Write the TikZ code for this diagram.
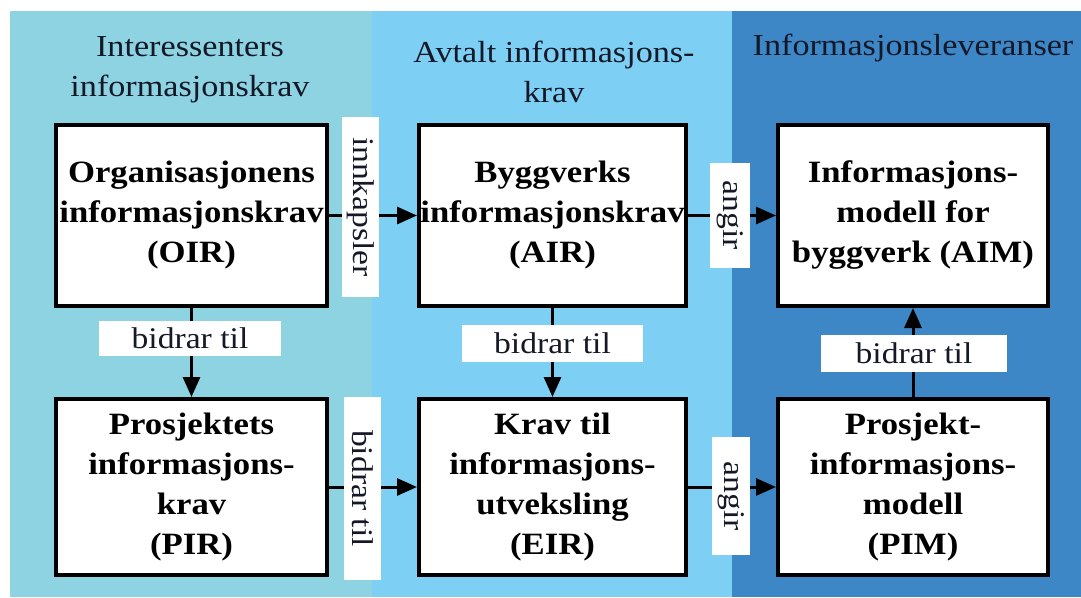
\documentclass[tikz,border=0pt]{standalone}
\usepackage{fontspec}
\setmainfont[FakeStretch=1.12]{Liberation Serif}
\usetikzlibrary{arrows.meta}
\definecolor{bgA}{HTML}{8DD3E2}
\definecolor{bgB}{HTML}{7DCFF3}
\definecolor{bgC}{HTML}{3D87C7}
\definecolor{ink}{HTML}{151826}
\begin{document}
\begin{tikzpicture}[x=1pt,y=-1pt,
  box/.style={draw=black, line width=4pt, fill=white, align=center, inner sep=0pt,
    font=\fontsize{31}{40}\selectfont\bfseries, text=black},
  lab/.style={fill=white, inner sep=0pt, font=\fontsize{30}{36}\selectfont, text=ink},
  hdr/.style={align=center, inner sep=0pt, font=\fontsize{30.5}{40}\selectfont, text=ink},
  conn/.style={line width=3pt, -{Triangle[length=20pt,width=17pt]}}]
\useasboundingbox (0,0) rectangle (1081,597);
\fill[white] (0,0) rectangle (1081,597);
\fill[bgA] (10,11) rectangle (372,597);
\fill[bgB] (372,11) rectangle (732,597);
\fill[bgC] (732,11) rectangle (1081,597);

\node[hdr] (h1) at (190,70) {Interessenters\\informasjonskrav};
\node[hdr] (h2) at (554,72) {Avtalt informasjons-\\krav};
\node[hdr] (h3) at (913,48) {Informasjonsleveranser};

\node[box, minimum width=271, minimum height=181] (oir) at (191.5,215.5) {Organisasjonens\\informasjonskrav\\(OIR)};
\node[box, minimum width=267, minimum height=181] (air) at (552.5,215.5) {Byggverks\\informasjonskrav\\(AIR)};
\node[box, minimum width=270, minimum height=181] (aim) at (913,215.5) {Informasjons-\\modell for\\byggverk (AIM)};
\node[box, minimum width=271, minimum height=176] (pir) at (191.5,487) {Prosjektets\\informasjons-\\krav\\(PIR)};
\node[box, minimum width=267, minimum height=176] (eir) at (552.5,487) {Krav til\\informasjons-\\utveksling\\(EIR)};
\node[box, minimum width=270, minimum height=176] (pim) at (913,487) {Prosjekt-\\informasjons-\\modell\\(PIM)};

\draw[conn] (oir) -- (pir);
\draw[conn] (air) -- (eir);
\draw[conn] (pim) -- (aim);
\draw[conn] (oir) -- (air);
\draw[conn] (air) -- (aim);
\draw[conn] (pir) -- (eir);
\draw[conn] (eir) -- (pim);

\node[lab, minimum width=182, minimum height=35] (l1) at (190,338.5) {bidrar til};
\node[lab, minimum width=181, minimum height=37] (l2) at (552.5,343.5) {bidrar til};
\node[lab, minimum width=186, minimum height=37] (l3) at (914,353.5) {bidrar til};
\node[lab, rotate=-90, minimum width=180, minimum height=37] (l4) at (360.5,207) {innkapsler};
\node[lab, rotate=-90, minimum width=105, minimum height=40] (l5) at (730,215.5) {angir};
\node[lab, rotate=-90, minimum width=183, minimum height=37] (l6) at (362.5,488.5) {bidrar til};
\node[lab, rotate=-90, minimum width=118, minimum height=38] (l7) at (731,496) {angir};
\end{tikzpicture}
\end{document}
